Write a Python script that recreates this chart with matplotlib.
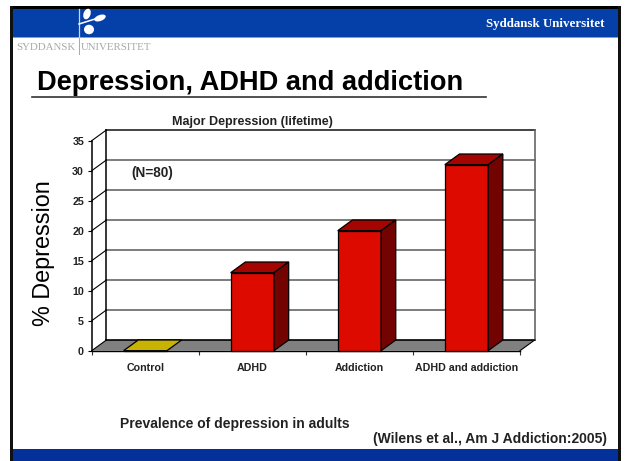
import matplotlib
matplotlib.use("Agg")
import matplotlib.pyplot as plt
from matplotlib.patches import Polygon, Rectangle, Ellipse

categories = ["Control", "ADHD", "Addiction", "ADHD and addiction"]
values = [0, 13, 20, 31]
bar_colors = ["#c8b400", "#dd0a00", "#dd0a00", "#dd0a00"]
top_colors = ["#c8b400", "#a50500", "#a50500", "#a50500"]
side_colors = ["#c8b400", "#720300", "#720300", "#720300"]
y_ticks = [0, 5, 10, 15, 20, 25, 30, 35]

sans = "Liberation Sans"
W, H = 625, 461
fig = plt.figure(figsize=(W / 100, H / 100), dpi=100, facecolor="white")

# page-level artwork in pixel coordinates
bg = fig.add_axes([0, 0, 1, 1])
bg.set_xlim(0, W); bg.set_ylim(H, 0); bg.axis("off")
bg.add_patch(Rectangle((10, 6), 611, 3, fc="black", ec="none"))
bg.add_patch(Rectangle((10, 6), 3, 455, fc="#111111", ec="none"))
bg.add_patch(Rectangle((618, 6), 3, 455, fc="#111111", ec="none"))
bg.add_patch(Rectangle((13, 9), 605, 28, fc="#0440a8", ec="none"))
bg.add_patch(Rectangle((13, 37), 605, 1.5, fc="#7fa0d0", ec="none"))
bg.add_patch(Rectangle((13, 449), 605, 12, fc="#04309a", ec="none"))
bg.plot([79, 79], [9, 37], color="#c8d8f0", lw=0.9)
bg.plot([79, 79], [38, 54], color="#a8a8a8", lw=0.7)
bg.add_patch(Ellipse((89, 29.5), 10, 9.5, fc="white", ec="none"))
bg.add_patch(Ellipse((100, 18), 12, 6, angle=-20, fc="white", ec="none"))
bg.add_patch(Ellipse((87, 14), 7, 11, angle=20, fc="white", ec="none"))
bg.plot([79, 95], [24, 19], color="white", lw=1.1)
bg.text(605, 24, "Syddansk Universitet", color="white", fontsize=9.4,
        family="Liberation Serif", weight="bold", ha="right", va="center")
bg.text(16, 48, "SYDDANSK", color="#a8a8a8", fontsize=7.8, family="Liberation Serif", va="center")
bg.text(81, 48, "UNIVERSITET", color="#a8a8a8", fontsize=7.8, family="Liberation Serif", va="center")
bg.text(37, 83.5, "Depression, ADHD and addiction", fontsize=19.6, weight="bold",
        family=sans, va="center", color="black")
bg.plot([32, 486], [97.5, 97.5], color="#333333", lw=1.2)
bg.text(120, 424, "Prevalence of depression in adults", fontsize=10, weight="bold",
        family=sans, va="center", color="#222222")
bg.text(373, 438.5, "(Wilens et al., Am J Addiction:2005)", fontsize=10, weight="bold",
        family=sans, va="center", color="#222222")

# chart axes: the front plane of the 3D box
x0, x1, y0, y1 = 91.7, 520.0, 350.7, 140.7
ax = fig.add_axes([x0 / W, 1 - y0 / H, (x1 - x0) / W, (y0 - y1) / H])
ax.set_xlim(0, 4); ax.set_ylim(0, 35)
ax.patch.set_visible(False)
for s in ax.spines.values():
    s.set_visible(False)
ddx = 14.7 * 4 / (x1 - x0)
ddy = 10.7 * 35 / (y0 - y1)

ax.add_patch(Polygon([(0, 0), (ddx, ddy), (4 + ddx, ddy), (4, 0)], fc="#808080", ec="none", clip_on=False, zorder=1))
for t in y_ticks[1:]:
    ax.plot([ddx, 4 + ddx], [t + ddy] * 2, color="#666666" if t < 35 else "#222222", lw=1.2, clip_on=False, zorder=1)
    ax.plot([0, ddx], [t, t + ddy], color="black", lw=0.8, clip_on=False, zorder=1)
ax.plot([ddx, 4 + ddx], [ddy, ddy], color="black", lw=1.2, clip_on=False, zorder=2)
ax.plot([ddx, ddx], [ddy, 35 + ddy], color="black", lw=1.1, clip_on=False, zorder=2)
ax.plot([4 + ddx, 4 + ddx], [ddy, 35 + ddy], color="#666666", lw=1.2, clip_on=False, zorder=2)
ax.plot([0, 0], [0, 35], color="black", lw=1.1, clip_on=False, zorder=2)
ax.plot([0, ddx], [0, ddy], color="black", lw=0.8, clip_on=False, zorder=2)
ax.plot([4, 4 + ddx], [0, ddy], color="black", lw=0.8, clip_on=False, zorder=2)
ax.plot([0, 4], [0, 0], color="black", lw=1.0, clip_on=False, zorder=2)

bw = 0.405
for i, v in enumerate(values):
    c = i + 0.5
    l, r = c - bw / 2, c + bw / 2
    ax.bar(c, v, width=bw, color=bar_colors[i], edgecolor="black", linewidth=0.9, zorder=3, clip_on=False)
    ax.add_patch(Polygon([(l, v), (l + ddx, v + ddy), (r + ddx, v + ddy), (r, v)],
                         fc=top_colors[i], ec="black", lw=0.9, zorder=4, clip_on=False))
    if v > 0:
        ax.add_patch(Polygon([(r, 0), (r + ddx, ddy), (r + ddx, v + ddy), (r, v)],
                             fc=side_colors[i], ec="black", lw=0.9, zorder=4, clip_on=False))

ax.set_yticks(y_ticks)
ax.set_xticks([0, 1, 2, 3, 4])
ax.set_xticks([0.5, 1.5, 2.5, 3.5], labels=categories, minor=True)
ax.set_xticklabels([])
ax.tick_params(axis="x", which="major", length=3, width=0.8, color="#333333")
ax.tick_params(axis="x", which="minor", length=0, pad=8.5)
ax.tick_params(axis="y", length=3, width=0.8, pad=2.5)
for lab in ax.get_yticklabels() + ax.get_xticklabels(minor=True):
    lab.set_fontsize(7.7); lab.set_weight("bold"); lab.set_family(sans); lab.set_color("#222222")

bg.text(172, 122, "Major Depression (lifetime)", fontsize=9, weight="bold", family=sans, va="center", color="#222222")
bg.text(131, 173, "(N=80)", fontsize=9.8, weight="bold", family=sans, va="center", color="#222222")
bg.text(44, 253, "% Depression", fontsize=16.8, family=sans, rotation=90, ha="center", va="center", color="black")
fig.savefig("out.png", dpi=100)
